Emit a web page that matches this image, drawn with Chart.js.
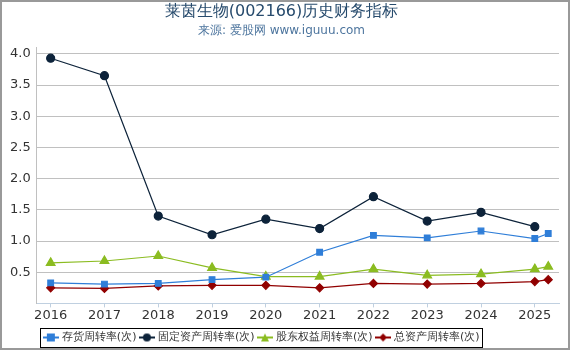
<!DOCTYPE html>
<html>
<head>
<meta charset="utf-8">
<script src="https://cdn.jsdelivr.net/npm/chart.js@4/dist/chart.umd.min.js"></script>
<style>
  html, body { margin: 0; padding: 0; background: #fff; }
  #wrap { width: 570px; height: 350px; }
</style>
</head>
<body>
<div id="wrap"><canvas id="chart" width="570" height="350"></canvas></div>
<script>
// periodos (2025.25 = 1o trimestre de 2025)
const anos = [2016, 2017, 2018, 2019, 2020, 2021, 2022, 2023, 2024, 2025, 2025.25];

const estoque = [0.33, 0.31, 0.32, 0.38, 0.42, 0.82, 1.09, 1.05, 1.16, 1.04, 1.12];
const ativoFixo = [3.93, 3.65, 1.40, 1.10, 1.35, 1.20, 1.71, 1.32, 1.46, 1.23, null];
const patrimonio = [0.65, 0.68, 0.76, 0.57, 0.43, 0.43, 0.55, 0.45, 0.47, 0.55, 0.59];
const ativoTotal = [0.25, 0.24, 0.28, 0.29, 0.29, 0.25, 0.32, 0.31, 0.32, 0.35, 0.38];

const nomes = ['存货周转率(次)', '固定资产周转率(次)', '股东权益周转率(次)', '总资产周转率(次)'];
const cores = ['#2f7ed8', '#0d233a', '#8bbc21', '#910000'];
const formas = ['rect', 'circle', 'triangle', 'rectRot'];
const valores = [estoque, ativoFixo, patrimonio, ativoTotal];

// deslocamento da legenda (no original ela fica um pouco a esquerda)
const legendaDx = -19;
const legendaDy = 4;

function pontos(serie) {
    return anos.map((ano, i) => ({ x: ano, y: serie[i] }));
}

// icone da legenda: linha com o marcador no meio
function iconeLegenda(cor, forma) {
    const c = document.createElement('canvas');
    c.width = 16; c.height = 10;
    const g = c.getContext('2d');
    g.strokeStyle = cor; g.fillStyle = cor; g.lineWidth = 2;
    g.beginPath(); g.moveTo(0, 5); g.lineTo(16, 5); g.stroke();
    g.beginPath();
    if (forma === 'rect') g.rect(4, 1, 8, 8);
    else if (forma === 'circle') g.arc(8, 5, 4, 0, Math.PI * 2);
    else if (forma === 'triangle') { g.moveTo(8, 1); g.lineTo(12, 9); g.lineTo(4, 9); g.closePath(); }
    else { g.moveTo(8, 1); g.lineTo(12, 5); g.lineTo(8, 9); g.lineTo(4, 5); g.closePath(); }
    g.fill();
    return c;
}

const molduraPlugin = {
    id: 'moldura',
    afterLayout(chart) {
        const l = chart.legend;
        l.left += legendaDx; l.right += legendaDx;
        l.top += legendaDy; l.bottom += legendaDy;
    },
    afterDraw(chart) {
        const ctx = chart.ctx;
        ctx.save();
        // caixa da legenda
        const caixas = chart.legend.legendHitBoxes;
        if (caixas && caixas.length) {
            const esq = Math.min(...caixas.map(b => b.left)) - 5;
            const dir = Math.max(...caixas.map(b => b.left + b.width)) + 3;
            const topo = Math.min(...caixas.map(b => b.top)) - 4;
            const base = Math.max(...caixas.map(b => b.top + b.height)) + 4;
            ctx.strokeStyle = '#000';
            ctx.lineWidth = 1;
            ctx.strokeRect(Math.round(esq) + 0.5, Math.round(topo) + 0.5, Math.round(dir - esq), Math.round(base - topo));
        }
        // borda externa
        ctx.strokeStyle = '#999';
        ctx.lineWidth = 2;
        ctx.strokeRect(1, 1, chart.width - 2, chart.height - 2);
        ctx.restore();
    }
};

new Chart(document.getElementById('chart'), {
    type: 'line',
    data: {
        datasets: nomes.map((nome, i) => ({
            label: nome,
            data: pontos(valores[i]),
            borderColor: cores[i],
            backgroundColor: cores[i],
            borderWidth: 1.2,
            pointStyle: formas[i],
            pointRadius: i === 2 ? 5 : 4,
            pointHoverRadius: 4,
            tension: 0
        }))
    },
    options: {
        responsive: false,
        animation: false,
        layout: { padding: { left: 4, right: 11, top: 0, bottom: 1 } },
        plugins: {
            title: {
                display: true,
                text: '莱茵生物(002166)历史财务指标',
                color: '#274b6d',
                font: { family: 'DejaVu Sans', size: 16, weight: 'normal' },
                padding: { top: 2, bottom: 0 }
            },
            subtitle: {
                display: true,
                text: '来源: 爱股网 www.iguuu.com',
                color: '#4d759e',
                font: { family: 'DejaVu Sans', size: 12 },
                padding: { top: 2, bottom: 10 }
            },
            legend: {
                position: 'bottom',
                labels: {
                    usePointStyle: true,
                    boxWidth: 16,
                    boxHeight: 10,
                    padding: 5,
                    color: '#333',
                    font: { family: 'DejaVu Sans', size: 11 },
                    generateLabels(chart) {
                        return chart.data.datasets.map((ds, i) => ({
                            text: ds.label,
                            fillStyle: cores[i],
                            strokeStyle: cores[i],
                            fontColor: '#333',
                            pointStyle: iconeLegenda(cores[i], formas[i]),
                            datasetIndex: i,
                            hidden: false
                        }));
                    }
                }
            },
            tooltip: { enabled: false }
        },
        scales: {
            x: {
                type: 'linear',
                min: 2015.74,
                max: 2025.45,
                grid: { display: true, drawOnChartArea: false, color: '#c0d0e0', tickLength: 4 },
                border: { color: '#c0d0e0' },
                ticks: {
                    stepSize: 1,
                    includeBounds: false,
                    color: '#333',
                    font: { family: 'DejaVu Sans', size: 13 },
                    maxRotation: 0,
                    padding: 0,
                    callback: v => Number.isInteger(v) ? String(v) : ''
                }
            },
            y: {
                min: 0,
                max: 4.1,
                grid: { color: '#c0c0c0', drawTicks: false },
                border: { color: '#c0c0c0' },
                ticks: {
                    stepSize: 0.5,
                    includeBounds: false,
                    color: '#333',
                    padding: 6,
                    font: { family: 'DejaVu Sans', size: 13 },
                    callback: v => v === 0 ? '' : v.toFixed(1)
                }
            }
        }
    },
    plugins: [molduraPlugin]
});
</script>
</body>
</html>
